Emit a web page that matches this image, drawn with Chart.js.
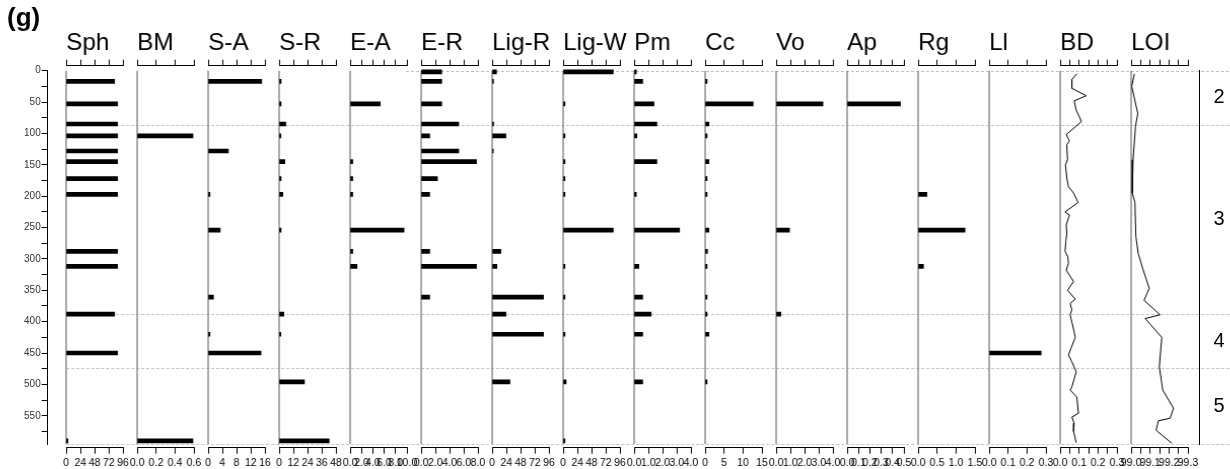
<!DOCTYPE html>
<html>
<head>
<meta charset="utf-8">
<script src="https://cdn.jsdelivr.net/npm/chart.js@4.4.1/dist/chart.umd.min.js"></script>
<style>
  html, body { margin: 0; padding: 0; background: #fff; }
  #wrap { position: relative; width: 1230px; height: 469px; overflow: hidden; background: #fff; }
  #wrap canvas { position: absolute; top: 0; }
</style>
</head>
<body>
<div id="wrap"></div>
<script>
// ---- sample depths (cm) shared by all taxa ----
const depths = [2, 17, 53, 85, 104, 128, 145, 172, 197, 254, 288, 312, 361, 388, 420, 450, 496, 590];

// ---- abundances per taxon, aligned with `depths` (null = not recorded) ----
const sph   = [null, 82, 87, 87, 87, 87, 87, 87, 87, null, 87, 87, null, 82, null, 87, null, 3];
const bm    = [null, null, null, null, 0.59, null, null, null, null, null, null, null, null, null, null, null, null, 0.59];
const sA    = [null, 15.1, null, null, null, 5.7, null, null, 0.5, 3.4, null, null, 1.5, null, 0.5, 14.9, null, null];
const sR    = [null, 1.6, 1.6, 5.6, 1.4, null, 4.8, 1.6, 3.1, 1.6, null, null, null, 4.0, 1.4, null, 21.4, 42.3];
const eA    = [null, null, 5.3, null, null, null, 0.45, 0.45, 0.45, 9.5, 0.45, 1.2, null, null, null, null, null, null];
const eR    = [2.9, 2.9, 2.9, 5.3, 1.2, 5.3, 7.8, 2.3, 1.2, null, 1.2, 7.8, 1.2, null, null, null, null, null];
const ligR  = [7.3, 2.3, null, 2.5, 23.2, 2.0, null, null, null, null, 14.7, 8.0, 86.9, 23.2, 86.9, null, 30, null];
const ligW  = [84.7, null, 3, null, 3, null, 3, 3, 3, 84.7, null, 3, 3, null, 3, null, 5, 3];
const pm    = [0.15, 0.6, 1.4, 1.6, 0.19, null, 1.6, null, 0.15, 3.2, null, 0.33, 0.6, 1.2, 0.6, null, 0.6, null];
const cc    = [null, 0.5, 12.7, 1.0, 0.5, null, 1.0, 0.5, 0.5, 1.0, 0.6, 0.5, 0.5, 0.5, 1.0, null, 0.5, null];
const vo    = [null, null, 3.3, null, null, null, null, null, null, 0.94, null, null, null, 0.33, null, null, null, null];
const ap    = [null, null, 0.47, null, null, null, null, null, null, null, null, null, null, null, null, null, null, null];
const rg    = [null, null, null, null, null, null, null, null, 0.23, 1.24, null, 0.14, null, null, null, null, null, null];
const ll    = [null, null, null, null, null, null, null, null, null, null, null, null, null, null, null, 0.275, null, null];

// ---- bulk density and loss on ignition profiles ----
const bdDepth = [5, 14, 28, 40, 48, 63, 81, 102, 112, 118, 142, 150, 171, 185, 195, 210, 225, 230, 246, 260, 272, 288, 296, 307, 318, 336, 350, 364, 371, 381, 389, 407, 425, 453, 464, 480, 504, 509, 520, 546, 552, 562, 575, 593];
const bdValue = [0.088, 0.062, 0.062, 0.138, 0.074, 0.085, 0.113, 0.032, 0.049, 0.035, 0.039, 0.028, 0.035, 0.044, 0.071, 0.095, 0.026, 0.049, 0.032, 0.035, 0.030, 0.026, 0.040, 0.044, 0.032, 0.071, 0.039, 0.080, 0.053, 0.062, 0.053, 0.067, 0.080, 0.044, 0.062, 0.085, 0.062, 0.053, 0.088, 0.097, 0.062, 0.074, 0.071, 0.085];
const loiDepth = [5, 25, 68, 89, 142, 195, 210, 264, 291, 318, 347, 366, 389, 395, 425, 472, 509, 538, 554, 558, 573, 594];
const loiValue = [99.017, 99.003, 99.035, 99.023, 99.010, 99.006, 99.020, 99.025, 99.037, 99.064, 99.096, 99.068, 99.153, 99.074, 99.162, 99.149, 99.167, 99.224, 99.206, 99.144, 99.132, 99.215];

// ---- panel titles and axis ranges ----
const panelTitles = ['Sph', 'BM', 'S-A', 'S-R', 'E-A', 'E-R', 'Lig-R', 'Lig-W', 'Pm', 'Cc', 'Vo', 'Ap', 'Rg', 'Ll', 'BD', 'LOI'];
const panelSeries = [sph, bm, sA, sR, eA, eR, ligR, ligW, pm, cc, vo, ap, rg, ll];
const axisMin     = [0, 0,   0,  0,  0,  0, 0,  0,  0, 0,  0, 0,   0,   0,   0,    99.0];
const axisMax     = [96, 0.6, 16, 48, 10, 8, 96, 96, 4, 15, 4, 0.5, 1.5, 0.3, 0.3,  99.3];
const axisStep    = [24, 0.2, 4,  12, 2,  2, 24, 24, 1, 5,  1, 0.1, 0.5, 0.1, 0.05, 0.05];
const labelStep   = [24, 0.2, 4,  12, 2,  2, 24, 24, 1, 5,  1, 0.1, 0.5, 0.1, 0.1,  0.1];
const labelDigits = [0,  1,   0,  0,  1,  1, 0,  0,  1, 0,  1, 1,   1,   1,   1,    1];

// ---- depth axis and zones ----
const depthTicks = [0, 25, 50, 75, 100, 125, 150, 175, 200, 225, 250, 275, 300, 325, 350, 375, 400, 425, 450, 475, 500, 525, 550, 575];
const zoneBounds = [0, 86, 388, 474, 595];
const zoneNames  = ['2', '3', '4', '5'];

// ---- layout ----
const W = 1230, H = 469;
const FONT = "'Liberation Sans', Arial, Helvetica, sans-serif";
const PLOT_TOP = 70.7, PLOT_BOTTOM = 444, DEPTH_MAX = 595;
const BRACKET_TOP = 65.7, BRACKET_BOTTOM = 447.7;
const PANEL_X0 = 66.3, PANEL_STEP = 71, PANEL_W = 56.7, SIDE = 14;
const AXIS_LEFT = 47.7, ZONE_LINE = 1199;
const pxPerDepth = (PLOT_BOTTOM - PLOT_TOP) / DEPTH_MAX;
const panelDepthMin = -(PLOT_TOP - BRACKET_TOP) / pxPerDepth;
const panelDepthMax = DEPTH_MAX + (BRACKET_BOTTOM - PLOT_BOTTOM) / pxPerDepth;

const wrap = document.getElementById('wrap');
function makeCanvas(left, width) {
  const c = document.createElement('canvas');
  c.width = width; c.height = H;
  c.style.left = left + 'px';
  c.style.width = width + 'px'; c.style.height = H + 'px';
  wrap.appendChild(c);
  return c;
}

function buildTicks(min, max, step) {
  const out = [];
  const n = Math.round((max - min) / step);
  for (let k = 0; k <= n; k++) out.push({ value: +(min + k * step).toFixed(6) });
  return out;
}

// ---- frame: depth axis, zone boundaries, zone column, label ----
const framePlugin = {
  id: 'frame',
  beforeDraw(chart) {
    const ctx = chart.ctx, y = chart.scales.y;
    ctx.save();
    ctx.strokeStyle = '#c4c4c4';
    ctx.lineWidth = 1;
    ctx.setLineDash([3, 2]);
    zoneBounds.forEach((d, i) => {
      const py = Math.round(y.getPixelForValue(d)) + 0.5;
      ctx.beginPath();
      ctx.moveTo(i === 0 ? 406 : PANEL_X0, py);
      ctx.lineTo(W, py);
      ctx.stroke();
    });
    ctx.restore();
  },
  afterDraw(chart) {
    const ctx = chart.ctx, y = chart.scales.y;
    ctx.save();
    ctx.fillStyle = '#000';
    ctx.font = `20px ${FONT}`;
    ctx.textAlign = 'center';
    ctx.textBaseline = 'middle';
    zoneNames.forEach((z, i) => {
      const mid = (zoneBounds[i] + zoneBounds[i + 1]) / 2;
      ctx.fillText(z, 1219, y.getPixelForValue(mid));
    });
    ctx.font = `bold 26px ${FONT}`;
    ctx.textAlign = 'left';
    ctx.textBaseline = 'alphabetic';
    ctx.fillText('(g)', 7, 26);
    ctx.restore();
  }
};

new Chart(makeCanvas(0, W), {
  type: 'scatter',
  data: { datasets: [] },
  options: {
    responsive: false, animation: false, events: [],
    layout: { padding: { top: PLOT_TOP, bottom: H - PLOT_BOTTOM, left: 0, right: 0 } },
    plugins: { legend: { display: false }, tooltip: { enabled: false } },
    scales: {
      x: { type: 'linear', display: false, min: 0, max: 1 },
      y: {
        type: 'linear', position: 'left', reverse: true, min: 0, max: DEPTH_MAX,
        afterBuildTicks: s => { s.ticks = depthTicks.map(v => ({ value: v })); },
        afterFit: s => { s.width = AXIS_LEFT; },
        ticks: {
          autoSkip: false, padding: 1, color: '#333',
          font: { family: FONT, size: 10 },
          callback: v => (v % 50 === 0 ? String(v) : '')
        },
        grid: { drawOnChartArea: false, tickLength: 6, color: '#000', lineWidth: 1 },
        border: { color: '#000', width: 1 }
      },
      y2: {
        type: 'linear', position: 'right', reverse: true, min: 0, max: DEPTH_MAX,
        afterFit: s => { s.width = W - ZONE_LINE; },
        ticks: { display: false },
        grid: { display: false },
        border: { display: true, color: '#000', width: 1 }
      }
    }
  },
  plugins: [framePlugin]
});

// ---- one strip chart per variable ----
const stripPlugin = {
  id: 'strip',
  beforeDatasetsDraw(chart, args, opts) {
    const ctx = chart.ctx, x = chart.scales.x, y = chart.scales.y;
    const px = x.getPixelForValue(x.min);
    ctx.save();
    ctx.strokeStyle = '#8c8c8c';
    ctx.lineWidth = 1.5;
    ctx.beginPath();
    ctx.moveTo(px, y.getPixelForValue(0));
    ctx.lineTo(px, y.getPixelForValue(DEPTH_MAX));
    ctx.stroke();
    ctx.restore();
  },
  afterDraw(chart, args, opts) {
    const ctx = chart.ctx;
    ctx.save();
    ctx.fillStyle = '#000';
    ctx.font = `24px ${FONT}`;
    ctx.textAlign = 'left';
    ctx.textBaseline = 'alphabetic';
    ctx.fillText(opts.title, chart.chartArea.left, 50);
    ctx.restore();
  }
};

function stripScales(i) {
  const ticks = () => buildTicks(axisMin[i], axisMax[i], axisStep[i]);
  const grid = { drawOnChartArea: false, tickLength: 6, color: '#000', lineWidth: 1 };
  return {
    x: {
      type: 'linear', position: 'bottom', min: axisMin[i], max: axisMax[i], offset: false,
      afterBuildTicks: s => { s.ticks = ticks(); },
      afterFit: s => { s.height = H - BRACKET_BOTTOM; },
      ticks: {
        autoSkip: false, maxRotation: 0, padding: 3, color: '#000',
        font: { family: FONT, size: 10.5 },
        callback: v => {
          const r = (v - axisMin[i]) / labelStep[i];
          return Math.abs(r - Math.round(r)) < 1e-6 ? Number(v).toFixed(labelDigits[i]) : '';
        }
      },
      grid, border: { color: '#000', width: 1 }
    },
    xTop: {
      type: 'linear', position: 'top', min: axisMin[i], max: axisMax[i], offset: false,
      afterBuildTicks: s => { s.ticks = ticks(); },
      afterFit: s => { s.height = 6; },
      ticks: { display: false },
      grid, border: { color: '#000', width: 1 }
    },
    y: {
      type: 'linear', display: false, reverse: true, offset: false,
      min: panelDepthMin, max: panelDepthMax
    }
  };
}

panelTitles.forEach((title, i) => {
  const left = Math.round(PANEL_X0 + i * PANEL_STEP) - SIDE;
  const width = SIDE + PANEL_W + SIDE;
  const canvas = makeCanvas(left, width);
  const base = {
    responsive: false, animation: false, events: [],
    layout: { padding: { left: SIDE, right: width - SIDE - PANEL_W, top: BRACKET_TOP - 6, bottom: 0 } },
    plugins: { legend: { display: false }, tooltip: { enabled: false }, strip: { title } },
    scales: stripScales(i)
  };
  if (i < panelSeries.length) {
    const series = panelSeries[i];
    const pts = [];
    series.forEach((v, k) => { if (v !== null) pts.push({ x: v, y: depths[k] }); });
    new Chart(canvas, {
      type: 'bar',
      data: { datasets: [{ data: pts, backgroundColor: '#000', borderWidth: 0, barThickness: 4 }] },
      options: Object.assign({ indexAxis: 'y' }, base),
      plugins: [stripPlugin]
    });
  } else {
    const dep = i === 14 ? bdDepth : loiDepth;
    const val = i === 14 ? bdValue : loiValue;
    new Chart(canvas, {
      type: 'scatter',
      data: { datasets: [{ data: val.map((v, k) => ({ x: v, y: dep[k] })), showLine: true, borderColor: '#000', borderWidth: 1, pointRadius: 0, fill: false, tension: 0 }] },
      options: base,
      plugins: [stripPlugin]
    });
  }
});
</script>
</body>
</html>
